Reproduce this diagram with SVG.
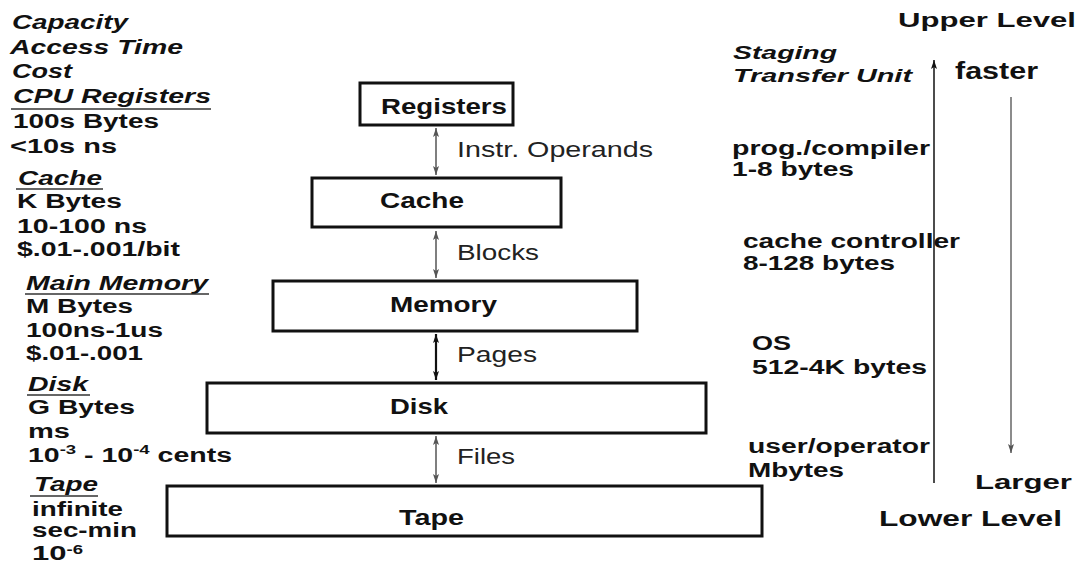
<svg xmlns="http://www.w3.org/2000/svg" width="1082" height="564" viewBox="0 0 1082 564">
<style>
text{font-family:"Liberation Sans",Arial,sans-serif;fill:#111;}
.b{font-weight:bold;font-size:20px;}
.bi{font-weight:bold;font-style:italic;font-size:20px;}
.box{fill:#fff;stroke:#111;stroke-width:3;}
.bl{font-weight:bold;font-size:22px;}
.cl{font-size:22px;fill:#222;}
.ul{stroke:#333;stroke-width:1.5;}
.rb{font-weight:bold;font-size:20px;}
.ar{fill:none;stroke:#555;stroke-width:1.5;}
</style>
<defs>
<marker id="ahk" viewBox="0 0 9 6" markerWidth="9" markerHeight="6" refX="9" refY="3" orient="auto-start-reverse" markerUnits="userSpaceOnUse">
<path d="M0,0 L9,3 L0,6 L2,3 z" fill="#111"/>
</marker>
<marker id="ahg" viewBox="0 0 9 6" markerWidth="9" markerHeight="6" refX="9" refY="3" orient="auto-start-reverse" markerUnits="userSpaceOnUse">
<path d="M0,0 L9,3 L0,6 L2,3 z" fill="#555"/>
</marker>
</defs>
<rect width="1082" height="564" fill="#fff"/>

<g id="left-labels">
<text class="bi" x="12" y="29" textLength="116" lengthAdjust="spacingAndGlyphs">Capacity</text>
<text class="bi" x="10" y="54" textLength="173" lengthAdjust="spacingAndGlyphs">Access Time</text>
<text class="bi" x="12" y="78" textLength="60" lengthAdjust="spacingAndGlyphs">Cost</text>
<text class="bi" x="13" y="103" textLength="198" lengthAdjust="spacingAndGlyphs">CPU Registers</text>
<line class="ul" x1="11" y1="109" x2="211" y2="109"/>
<text class="b" x="13" y="128" textLength="146" lengthAdjust="spacingAndGlyphs">100s Bytes</text>
<text class="b" x="10" y="153" textLength="107" lengthAdjust="spacingAndGlyphs">&lt;10s ns</text>

<text class="bi" x="18" y="185" textLength="84" lengthAdjust="spacingAndGlyphs">Cache</text>
<line class="ul" x1="16" y1="189" x2="103" y2="189"/>
<text class="b" x="17" y="208" textLength="105" lengthAdjust="spacingAndGlyphs">K Bytes</text>
<text class="b" x="17" y="233" textLength="130" lengthAdjust="spacingAndGlyphs">10-100 ns</text>
<text class="b" x="17" y="256" textLength="163" lengthAdjust="spacingAndGlyphs">$.01-.001/bit</text>

<text class="bi" x="26" y="290" textLength="182" lengthAdjust="spacingAndGlyphs">Main Memory</text>
<line class="ul" x1="25" y1="294" x2="209" y2="294"/>
<text class="b" x="26" y="313" textLength="107" lengthAdjust="spacingAndGlyphs">M Bytes</text>
<text class="b" x="26" y="337" textLength="137" lengthAdjust="spacingAndGlyphs">100ns-1us</text>
<text class="b" x="26" y="360" textLength="117" lengthAdjust="spacingAndGlyphs">$.01-.001</text>

<text class="bi" x="28" y="391" textLength="60" lengthAdjust="spacingAndGlyphs">Disk</text>
<line class="ul" x1="27" y1="395" x2="90" y2="395"/>
<text class="b" x="28" y="414" textLength="107" lengthAdjust="spacingAndGlyphs">G Bytes</text>
<text class="b" x="28" y="438" textLength="42" lengthAdjust="spacingAndGlyphs">ms</text>
<text class="b" x="28" y="462" textLength="204" lengthAdjust="spacingAndGlyphs">10<tspan font-size="13" dy="-8">-3</tspan><tspan dy="8"> - 10</tspan><tspan font-size="13" dy="-8">-4</tspan><tspan dy="8"> cents</tspan></text>

<text class="bi" x="34" y="491" textLength="64" lengthAdjust="spacingAndGlyphs">Tape</text>
<line class="ul" x1="30" y1="496" x2="98" y2="496"/>
<text class="b" x="32" y="516" textLength="91" lengthAdjust="spacingAndGlyphs">infinite</text>
<text class="b" x="32" y="537" textLength="105" lengthAdjust="spacingAndGlyphs">sec-min</text>
<text class="b" x="32" y="560" textLength="51" lengthAdjust="spacingAndGlyphs">10<tspan font-size="12" dy="-6">-6</tspan></text>
</g>

<g id="node-registers">
<rect class="box" x="360" y="83" width="153" height="42"/>
<text class="bl" x="381" y="114" textLength="126" lengthAdjust="spacingAndGlyphs">Registers</text>
</g>
<g id="node-cache">
<rect class="box" x="312" y="178" width="249" height="49"/>
<text class="bl" x="380" y="208" textLength="84" lengthAdjust="spacingAndGlyphs">Cache</text>
</g>
<g id="node-memory">
<rect class="box" x="273" y="281" width="364" height="50"/>
<text class="bl" x="390" y="312" textLength="107" lengthAdjust="spacingAndGlyphs">Memory</text>
</g>
<g id="node-disk">
<rect class="box" x="207" y="383" width="499" height="50"/>
<text class="bl" x="390" y="414" textLength="58" lengthAdjust="spacingAndGlyphs">Disk</text>
</g>
<g id="node-tape">
<rect class="box" x="167" y="486" width="595" height="50"/>
<text class="bl" x="399" y="525" textLength="65" lengthAdjust="spacingAndGlyphs">Tape</text>
</g>

<g id="connectors">
<line class="ar" x1="436" y1="128" x2="436" y2="175" marker-start="url(#ahg)" marker-end="url(#ahg)"/>
<line class="ar" x1="436" y1="231" x2="436" y2="278" marker-start="url(#ahg)" marker-end="url(#ahg)"/>
<line x1="436" y1="334" x2="436" y2="380" stroke="#111" stroke-width="2.2" marker-start="url(#ahk)" marker-end="url(#ahk)"/>
<line class="ar" x1="436" y1="436" x2="436" y2="483" marker-start="url(#ahg)" marker-end="url(#ahg)"/>
<text class="cl" x="457" y="157" textLength="196" lengthAdjust="spacingAndGlyphs">Instr. Operands</text>
<text class="cl" x="457" y="260" textLength="82" lengthAdjust="spacingAndGlyphs">Blocks</text>
<text class="cl" x="457" y="362" textLength="80" lengthAdjust="spacingAndGlyphs">Pages</text>
<text class="cl" x="457" y="464" textLength="58" lengthAdjust="spacingAndGlyphs">Files</text>
<line x1="934" y1="483" x2="934" y2="60" stroke="#111" stroke-width="1.5" marker-end="url(#ahk)"/>
<line x1="1011" y1="97" x2="1011" y2="453" stroke="#666" stroke-width="1.5" marker-end="url(#ahg)"/>
</g>

<g id="right-labels">
<text class="rb" x="898" y="27" style="font-size:21px" textLength="178" lengthAdjust="spacingAndGlyphs">Upper Level</text>
<text class="bi" x="733" y="59" style="font-size:19px" textLength="104" lengthAdjust="spacingAndGlyphs">Staging</text>
<text class="bi" x="733" y="82" style="font-size:19px" textLength="179" lengthAdjust="spacingAndGlyphs">Transfer Unit</text>
<text class="rb" x="955" y="79" style="font-size:23px" textLength="83" lengthAdjust="spacingAndGlyphs">faster</text>
<text class="rb" x="732" y="155" textLength="198" lengthAdjust="spacingAndGlyphs">prog./compiler</text>
<text class="rb" x="732" y="176" textLength="122" lengthAdjust="spacingAndGlyphs">1-8 bytes</text>
<text class="rb" x="743" y="248" textLength="217" lengthAdjust="spacingAndGlyphs">cache controller</text>
<text class="rb" x="743" y="270" textLength="152" lengthAdjust="spacingAndGlyphs">8-128 bytes</text>
<text class="rb" x="752" y="350" textLength="39" lengthAdjust="spacingAndGlyphs">OS</text>
<text class="rb" x="752" y="374" textLength="175" lengthAdjust="spacingAndGlyphs">512-4K bytes</text>
<text class="rb" x="748" y="453" textLength="182" lengthAdjust="spacingAndGlyphs">user/operator</text>
<text class="rb" x="748" y="477" textLength="96" lengthAdjust="spacingAndGlyphs">Mbytes</text>
<text class="rb" x="975" y="489" style="font-size:21px" textLength="97" lengthAdjust="spacingAndGlyphs">Larger</text>
<text class="rb" x="879" y="526" style="font-size:22px" textLength="183" lengthAdjust="spacingAndGlyphs">Lower Level</text>
</g>
</svg>
